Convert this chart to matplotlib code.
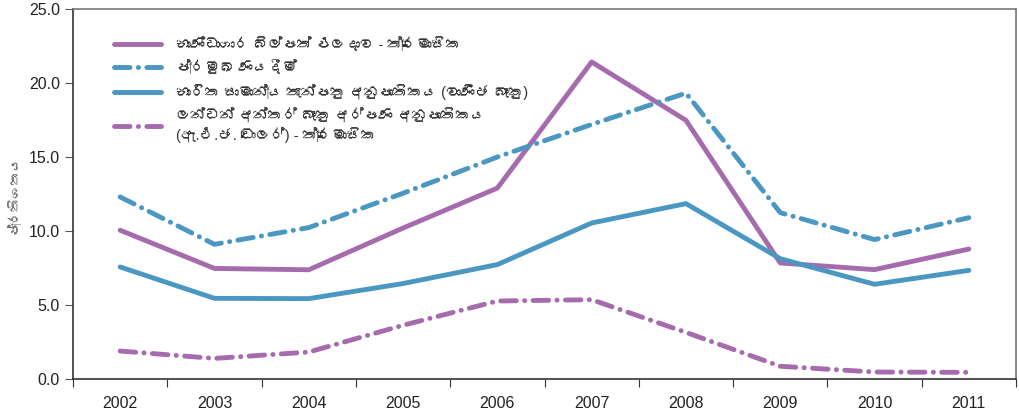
import numpy as np
import matplotlib
matplotlib.use("Agg")
import matplotlib.pyplot as plt
from matplotlib import font_manager
from matplotlib.ft2font import FT2Font

# --- DADOS ---
anos = ["2002", "2003", "2004", "2005", "2006", "2007", "2008", "2009", "2010", "2011"]

bill_yield = [10.05, 7.47, 7.38, 10.2, 12.9, 21.42, 17.48, 7.84, 7.39, 8.78]
prime_lending = [12.3, 9.1, 10.23, 12.55, 15.0, 17.2, 19.32, 11.24, 9.42, 10.9]
deposit_rate = [7.57, 5.45, 5.43, 6.45, 7.73, 10.54, 11.85, 8.13, 6.4, 7.34]
libor = [1.89, 1.39, 1.82, 3.63, 5.27, 5.36, 3.15, 0.86, 0.47, 0.45]

labels = [
    "භාණ්ඩාගාර බිල්පත් ඵලදාව - ත්‍රෛමාසික",
    "ප්‍රමුඛ ණයදීම්",
    "භාරිත සාමාන්‍ය තැන්පතු අනුපාතිකය (වාණිජ බැංකු)",
    "ලන්ඩන් අන්තර් බැංකු අර්පණ අනුපාතිකය\n(ඇ.එ.ජ. ඩොලර්) - ත්‍රෛමාසික",
]
y_label = "ප්‍රතිශතය"

PURPLE = "#a66bad"
BLUE = "#4a97c2"

# procura uma fonte instalada com glifos cingaleses
sinhala = []
for f in font_manager.fontManager.ttflist:
    try:
        if 0x0D9A in FT2Font(f.fname).get_charmap() and f.name not in sinhala:
            sinhala.append(f.name)
    except Exception:
        pass

plt.rcParams["font.family"] = ["Liberation Sans"] + sinhala + ["DejaVu Sans"]

fig = plt.figure(figsize=(10.19, 4.13), dpi=100)
ax = fig.add_axes([73 / 1019, 1 - 379 / 413, (1016 - 73) / 1019, (379 - 9) / 413])

x = np.arange(len(anos))
dashdot = (3.2, 1.7, 0.05, 1.7)

ax.plot(x, bill_yield, color=PURPLE, lw=3.5, solid_capstyle="round", label=labels[0])
ax.plot(x, prime_lending, color=BLUE, lw=3.5, dashes=dashdot, dash_capstyle="round", label=labels[1])
ax.plot(x, deposit_rate, color=BLUE, lw=3.5, solid_capstyle="round", label=labels[2])
ax.plot(x, libor, color=PURPLE, lw=3.5, dashes=dashdot, dash_capstyle="round", label=labels[3])

ax.set_xlim(-0.5, len(anos) - 0.5)
ax.set_ylim(0, 25)
ax.set_yticks(np.arange(0, 26, 5))
ax.set_yticklabels([f"{v:.1f}" for v in np.arange(0, 26, 5)])

# ticks nas bordas das categorias, rótulos no centro
ax.set_xticks(np.arange(-0.5, len(anos), 1.0))
ax.set_xticklabels([])
ax.set_xticks(x, minor=True)
ax.set_xticklabels(anos, minor=True)
ax.tick_params(axis="x", which="major", direction="out", length=6, color="#333333")
ax.tick_params(axis="x", which="minor", length=0, pad=12, labelsize=11.5, labelcolor="#222222")
ax.tick_params(axis="y", direction="out", length=6, color="#555555", labelsize=11.5, labelcolor="#222222")

for s in ["left", "bottom"]:
    ax.spines[s].set_color("#333333")
    ax.spines[s].set_linewidth(1.2)
for s in ["top", "right"]:
    ax.spines[s].set_color("#777777")
    ax.spines[s].set_linewidth(1.2)

ax.set_ylabel(y_label, fontsize=9.5, color="#666666", labelpad=6)

leg = ax.legend(loc="upper left", bbox_to_anchor=(0.03, 0.96), frameon=False,
                fontsize=10.5, handlelength=3.2, labelspacing=0.6, handletextpad=1.0)
for t in leg.get_texts():
    t.set_color("#333333")

fig.savefig("out.png", dpi=100)
